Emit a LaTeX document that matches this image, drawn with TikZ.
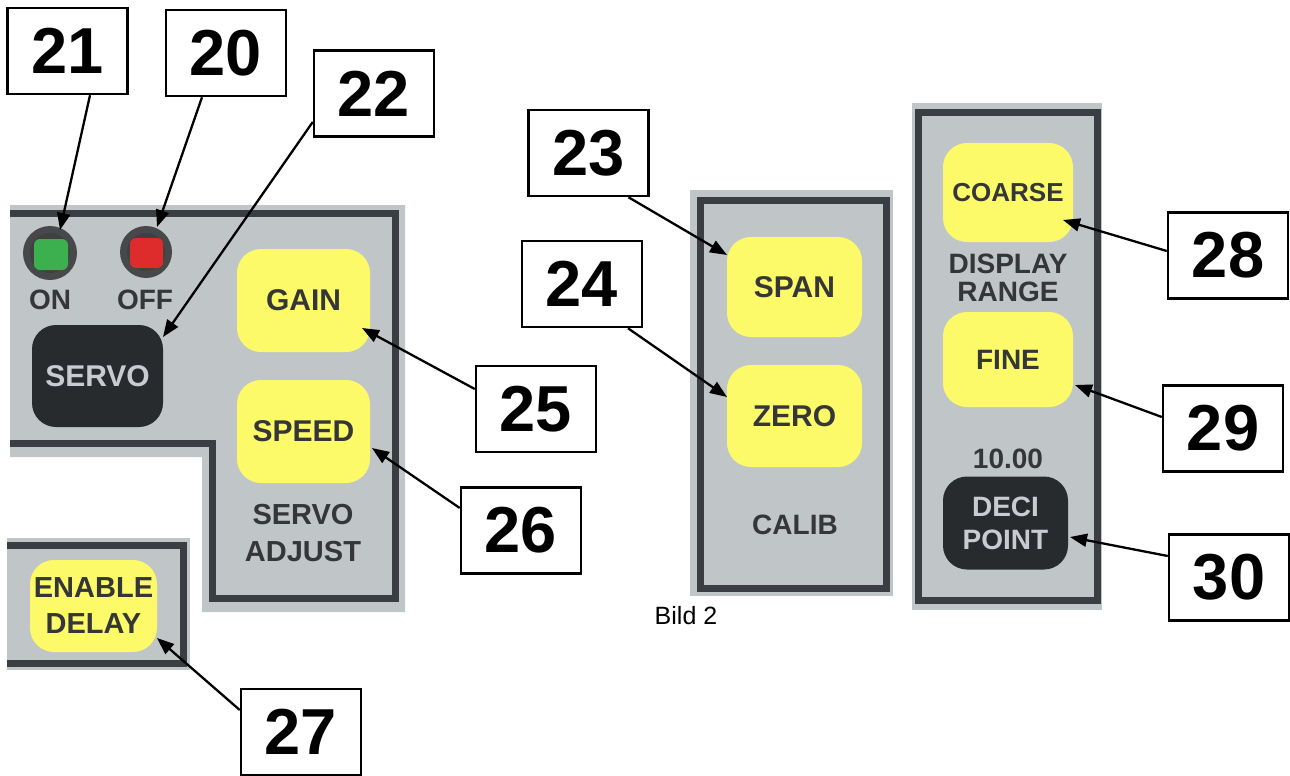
\documentclass[tikz,border=0pt]{standalone}
\usepackage{fontspec}
\setmainfont{Liberation Sans}
\usetikzlibrary{arrows.meta,calc}
\definecolor{pgray}{RGB}{192,197,199}
\definecolor{pborder}{RGB}{58,62,67}
\definecolor{byellow}{RGB}{252,250,104}
\definecolor{bblack}{RGB}{40,43,46}
\definecolor{bwtext}{RGB}{200,204,208}
\definecolor{ptext}{RGB}{52,54,56}
\definecolor{ledring}{RGB}{70,72,74}
\definecolor{ledgreen}{RGB}{60,176,78}
\definecolor{ledred}{RGB}{222,44,44}
\tikzset{
  numbox/.style={draw=black, line width=2.5pt, fill=white, minimum width=120pt, minimum height=86pt, inner sep=0pt, font=\fontsize{65}{65}\selectfont\bfseries},
  ybtn/.style={fill=byellow, rounded corners=24pt, inner sep=0pt, text=ptext, align=center, font=\fontsize{30}{34}\selectfont\bfseries},
  kbtn/.style={fill=bblack, rounded corners=24pt, inner sep=0pt, text=bwtext, align=center, font=\fontsize{30}{33}\selectfont\bfseries},
  plabel/.style={text=ptext, align=center, inner sep=0pt, font=\fontsize{29}{37}\selectfont\bfseries},
  callout/.style={line width=2.3pt, -{Triangle[length=17pt,width=13pt]}},
  pborderline/.style={draw=pborder, line width=7pt, line join=miter},
}
\begin{document}
\begin{tikzpicture}[x=1pt,y=-1pt]
\useasboundingbox (0,0) rectangle (1290,776);
\fill[white] (0,0) rectangle (1290,776);

% ---- left L-shaped panel
\fill[pgray] (10,205) -- (405,205) -- (405,612) -- (202,612) -- (202,457) -- (10,457) -- cycle;
\draw[pborderline] (10,213) -- (395,213) -- (395,598) -- (212,598) -- (212,443) -- (10,443);

% LEDs
\fill[ledring] (50,253) circle (27);
\fill[black!75] (50,253) circle (20);
\fill[ledgreen, rounded corners=6pt] (34,239) rectangle (68,270);
\fill[ledring] (146,252) circle (26);
\fill[black!75] (146,252) circle (19);
\fill[ledred, rounded corners=6pt] (130,238) rectangle (163,268);
\node[plabel, font=\fontsize{28}{30}\selectfont\bfseries] (on) at (50,300) {ON};
\node[plabel, font=\fontsize{28}{30}\selectfont\bfseries] (off) at (145,300) {OFF};

\node[kbtn, minimum width=131pt, minimum height=102pt] (servo) at (97.5,376) {SERVO};
\node[ybtn, minimum width=133pt, minimum height=103pt] (gain) at (303.5,300.5) {GAIN};
\node[ybtn, minimum width=133pt, minimum height=103pt] (speed) at (303.5,431.5) {SPEED};
\node[plabel] (servoadj) at (303,533) {SERVO\\ADJUST};

% ---- enable delay panel
\fill[pgray] (7,538) rectangle (190,670);
\draw[pborderline] (7,545) -- (183,545) -- (183,663) -- (7,663);
\node[ybtn, minimum width=127pt, minimum height=92pt, font=\fontsize{29}{36}\selectfont\bfseries] (enable) at (93.5,606) {ENABLE\\DELAY};

% ---- calib panel
\fill[pgray] (690,190) rectangle (893,596);
\draw[pborderline] (700,200) rectangle (886,588);
\node[ybtn, minimum width=135pt, minimum height=100pt] (span) at (794.5,287) {SPAN};
\node[ybtn, minimum width=135pt, minimum height=102pt] (zero) at (794.5,416) {ZERO};
\node[plabel, font=\fontsize{28}{30}\selectfont\bfseries] (calib) at (795,525) {CALIB};

% ---- display range panel
\fill[pgray] (912,103) rectangle (1102,610);
\draw[pborderline] (918,112) rectangle (1097,600);
\node[ybtn, minimum width=130pt, minimum height=99pt, font=\fontsize{26}{30}\selectfont\bfseries] (coarse) at (1008,192.5) {COARSE};
\node[plabel, font=\fontsize{28}{28}\selectfont\bfseries] (disprange) at (1008,278) {DISPLAY\\RANGE};
\node[ybtn, minimum width=130pt, minimum height=95pt, font=\fontsize{28}{30}\selectfont\bfseries] (fine) at (1008,359.5) {FINE};
\node[plabel, font=\fontsize{28}{30}\selectfont\bfseries] (tenval) at (1008,459) {10.00};
\node[kbtn, minimum width=125pt, minimum height=93pt, font=\fontsize{28}{33}\selectfont\bfseries] (deci) at (1005.5,523) {DECI\\POINT};

\node[inner sep=0pt, font=\fontsize{25}{28}\selectfont] (bild) at (686,616) {Bild 2};

% ---- number boxes
\node[numbox] (l21) at (67.5,51) {21};
\node[numbox] (l20) at (226,53) {20};
\node[numbox] (l22) at (374,93.5) {22};
\node[numbox] (l23) at (588.5,153) {23};
\node[numbox] (l24) at (582,284) {24};
\node[numbox] (l25) at (536,409) {25};
\node[numbox] (l26) at (521,530.5) {26};
\node[numbox] (l27) at (301,732) {27};
\node[numbox] (l28) at (1228,255.5) {28};
\node[numbox] (l29) at (1223,428.5) {29};
\node[numbox] (l30) at (1229,577.5) {30};

% ---- arrow tips
\coordinate (t21) at (60,230);
\coordinate (t20) at (157,227);
\coordinate (t22) at (163,337);
\coordinate (t25) at (362,328);
\coordinate (t26) at (372,448);
\coordinate (t27) at (157,638);
\coordinate (t23) at (727,255);
\coordinate (t24) at (727,397);
\coordinate (t28) at (1063,220);
\coordinate (t29) at (1075,385);
\coordinate (t30) at (1070,537);

% ---- connectors
\draw[callout] ([xshift=22.5pt]l21.south) -- (t21);
\draw[callout] ([xshift=-24pt]l20.south) -- (t20);
\draw[callout] ([yshift=-28.5pt]l22.west) -- (t22);
\draw[callout] ([xshift=40pt]l23.south) -- (t23);
\draw[callout] ([xshift=46pt]l24.south) -- (t24);
\draw[callout] ([yshift=20pt]l25.west) -- (t25);
\draw[callout] ([yshift=22.5pt]l26.west) -- (t26);
\draw[callout] ([yshift=22pt]l27.west) -- (t27);
\draw[callout] ([yshift=4.5pt]l28.west) -- (t28);
\draw[callout] ([yshift=11.5pt]l29.west) -- (t29);
\draw[callout] ([yshift=21.5pt]l30.west) -- (t30);
\end{tikzpicture}
\end{document}
